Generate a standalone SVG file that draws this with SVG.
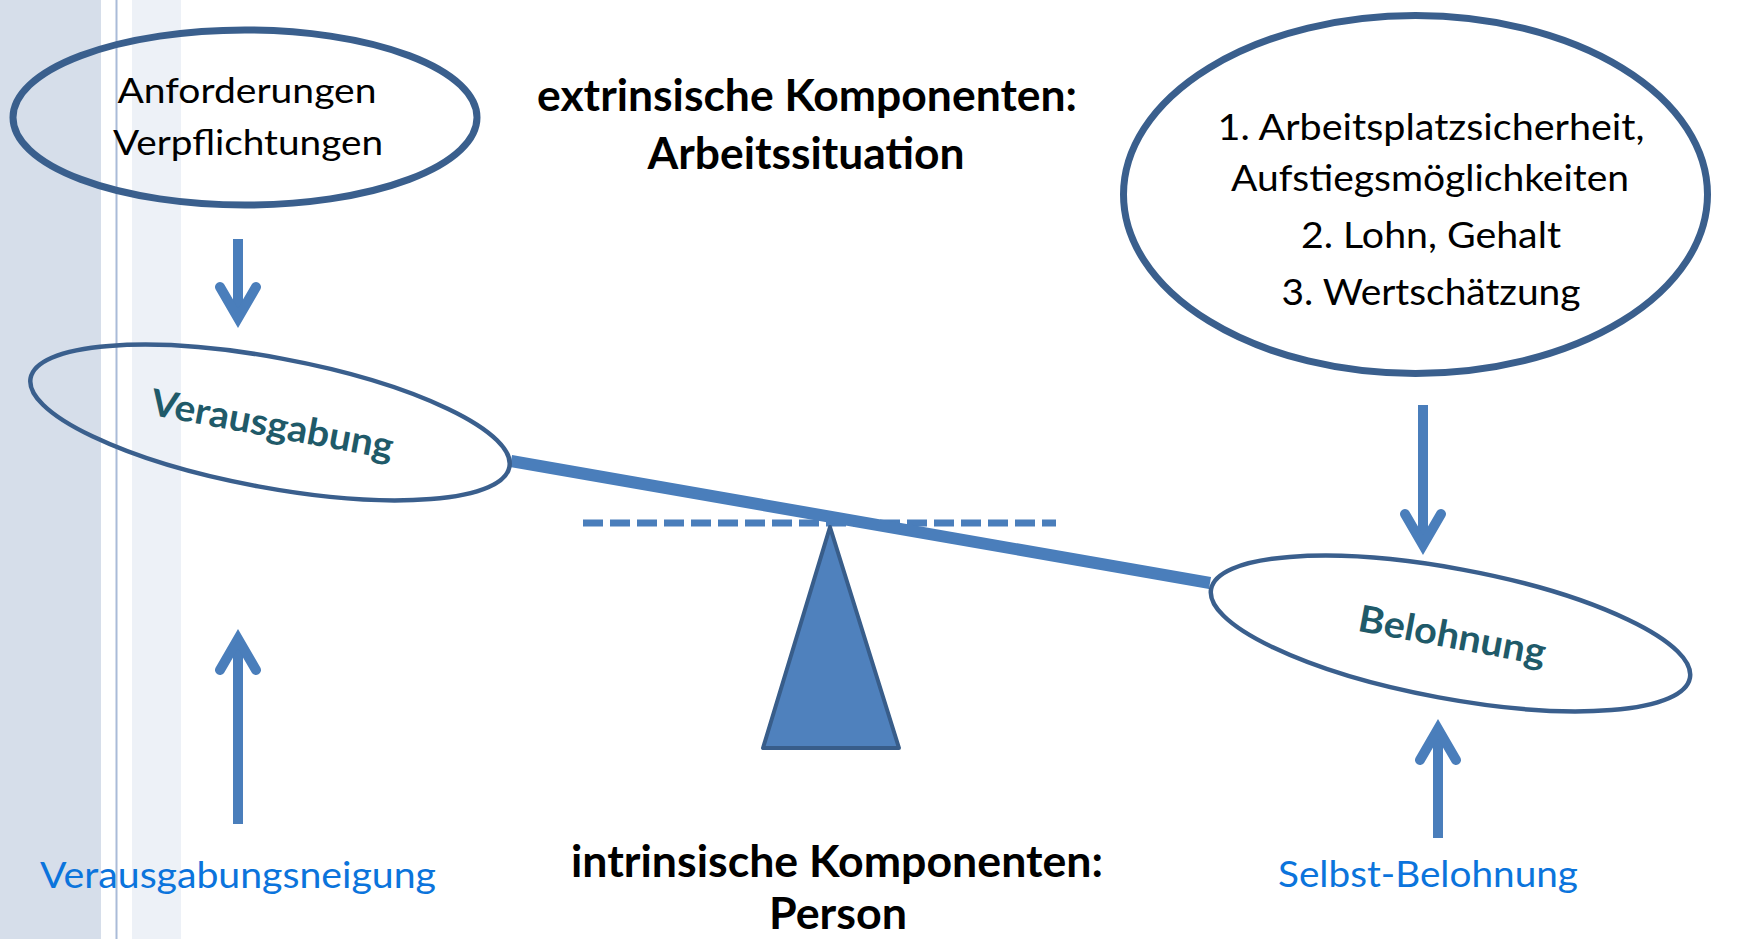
<svg xmlns="http://www.w3.org/2000/svg" width="1742" height="939" viewBox="0 0 1742 939">
  <style>
    .oval { fill: none; stroke: #3A5F8D; }
    .txt { font-family: Lato, "Liberation Sans", sans-serif; fill: #000; text-anchor: middle; }
    .reg { font-size: 34px; }
    .list { font-size: 36px; }
    .head { font-size: 44px; font-weight: bold; }
    .tilt { font-size: 37px; font-weight: bold; fill: #1F5A69; }
    .blue { font-size: 36px; fill: #0B74DC; }
    .arrow { stroke: #4A7EBB; stroke-width: 10; fill: none; marker-end: url(#head); }
  </style>
  <defs>
    <marker id="head" markerUnits="userSpaceOnUse" orient="auto" refX="0" refY="0"
            markerWidth="60" markerHeight="60" viewBox="-40 -30 60 60" overflow="visible">
      <path d="M -31 -18 L 0 0 L -31 18" fill="none" stroke="#4A7EBB" stroke-width="10"
            stroke-linecap="round" stroke-linejoin="miter" stroke-miterlimit="10"/>
    </marker>
  </defs>

  <!-- page background with side stripes -->
  <rect width="1742" height="939" fill="#FFFFFF"/>
  <rect x="0" y="0" width="101" height="939" fill="#D6DEEA"/>
  <rect x="115.5" y="0" width="2" height="939" fill="#AABBD8"/>
  <rect x="132" y="0" width="49" height="939" fill="#EDF1F7"/>

  <!-- headings -->
  <g id="extrinsic">
    <text class="txt head" x="807" y="111" textLength="540" lengthAdjust="spacingAndGlyphs">extrinsische Komponenten:</text>
    <text class="txt head" x="806" y="169" textLength="317" lengthAdjust="spacingAndGlyphs">Arbeitssituation</text>
  </g>
  <g id="intrinsic">
    <text class="txt head" x="837" y="877" textLength="532" lengthAdjust="spacingAndGlyphs">intrinsische Komponenten:</text>
    <text class="txt head" x="838" y="929" textLength="138" lengthAdjust="spacingAndGlyphs">Person</text>
  </g>

  <!-- seesaw: reference line, beam and pivot -->
  <g id="seesaw">
    <line x1="583" y1="523" x2="1056" y2="523" stroke="#4A7EBB" stroke-width="7" stroke-dasharray="20 7"/>
    <line x1="511" y1="461" x2="1210" y2="583" stroke="#4A7EBB" stroke-width="12"/>
    <polygon points="830,527 763,748 899,748" fill="#4F81BD" stroke="#385D8A" stroke-width="4" stroke-linejoin="round"/>
  </g>

  <g id="anforderungen">
    <ellipse class="oval" cx="245" cy="117.5" rx="232" ry="87.5" stroke-width="7"/>
    <text class="txt reg" x="247" y="103" textLength="259" lengthAdjust="spacingAndGlyphs">Anforderungen</text>
    <text class="txt reg" x="248" y="155" textLength="270" lengthAdjust="spacingAndGlyphs">Verpflichtungen</text>
  </g>

  <g id="arbeitssituation-items">
    <ellipse class="oval" cx="1415.5" cy="194.5" rx="292" ry="179" stroke-width="7"/>
    <text class="txt list" x="1431" y="140" textLength="427" lengthAdjust="spacingAndGlyphs">1. Arbeitsplatzsicherheit,</text>
    <text class="txt list" x="1430" y="191" textLength="398" lengthAdjust="spacingAndGlyphs">Aufstiegsmöglichkeiten</text>
    <text class="txt list" x="1431" y="248" textLength="260" lengthAdjust="spacingAndGlyphs">2. Lohn, Gehalt</text>
    <text class="txt list" x="1431" y="305" textLength="299" lengthAdjust="spacingAndGlyphs">3. Wertschätzung</text>
  </g>

  <g id="verausgabung">
    <ellipse class="oval" cx="270" cy="422.5" rx="243.5" ry="65" stroke-width="4.5" transform="rotate(10.5 270 422.5)"/>
    <text class="txt tilt" x="270" y="437" textLength="246" lengthAdjust="spacingAndGlyphs" transform="rotate(10.5 270 437)">Verausgabung</text>
  </g>

  <g id="belohnung">
    <ellipse class="oval" cx="1450.5" cy="633.5" rx="243.5" ry="65" stroke-width="4.5" transform="rotate(10.5 1450.5 633.5)"/>
    <text class="txt tilt" x="1450" y="648" textLength="190" lengthAdjust="spacingAndGlyphs" transform="rotate(10.5 1450 648)">Belohnung</text>
  </g>

  <g id="verausgabungsneigung">
    <text class="txt blue" x="238" y="888" textLength="396" lengthAdjust="spacingAndGlyphs">Verausgabungsneigung</text>
  </g>

  <g id="selbst-belohnung">
    <text class="txt blue" x="1428" y="887" textLength="300" lengthAdjust="spacingAndGlyphs">Selbst-Belohnung</text>
  </g>

  <!-- connectors -->
  <g id="connectors">
    <line class="arrow" x1="238" y1="239" x2="238" y2="318"/>
    <line class="arrow" x1="238" y1="824" x2="238" y2="639"/>
    <line class="arrow" x1="1423" y1="405" x2="1423" y2="545"/>
    <line class="arrow" x1="1438" y1="838" x2="1438" y2="729"/>
  </g>
</svg>
